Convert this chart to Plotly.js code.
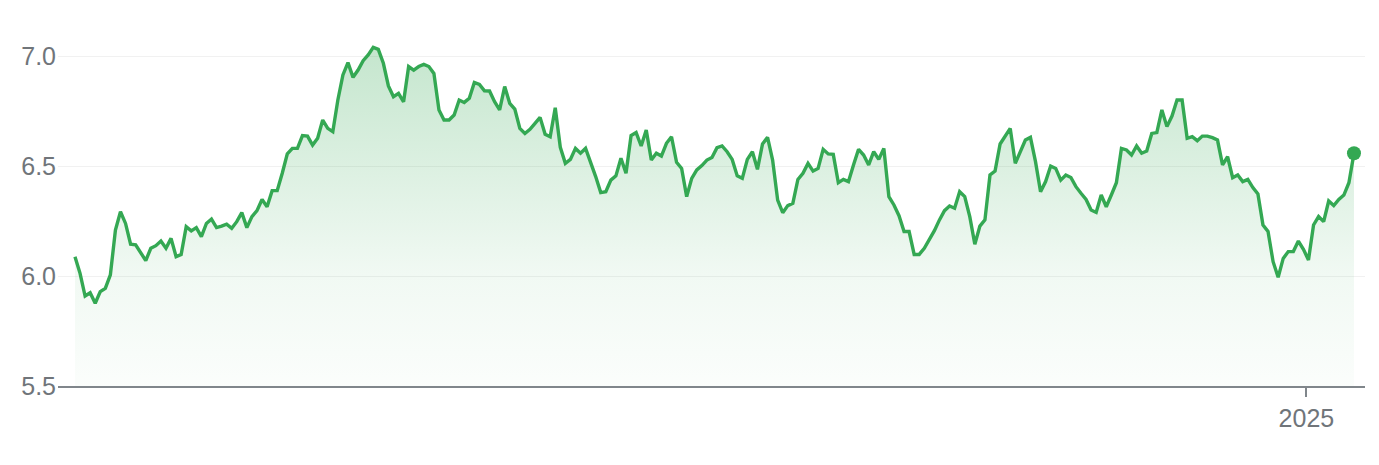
<!DOCTYPE html>
<html>
<head>
<meta charset="utf-8">
<script src="https://cdn.plot.ly/plotly-3.0.1.min.js"></script>
<style>
  html, body { margin: 0; padding: 0; background: #ffffff; }
  #chart { width: 1379px; height: 465px; }
</style>
</head>
<body>
<div id="chart"></div>
<script>
// Closing values, one per trading day
const prices = [
  6.088, 6.012, 5.909, 5.924, 5.876, 5.929, 5.944, 6.005, 6.209, 6.292,
  6.239, 6.145, 6.142, 6.106, 6.070, 6.126, 6.138, 6.159, 6.126, 6.171,
  6.088, 6.098, 6.224, 6.205, 6.220, 6.179, 6.239, 6.259, 6.220, 6.227,
  6.236, 6.217, 6.247, 6.288, 6.220, 6.270, 6.297, 6.348, 6.315, 6.388,
  6.388, 6.467, 6.555, 6.580, 6.580, 6.638, 6.636, 6.595, 6.626, 6.709,
  6.671, 6.656, 6.800, 6.914, 6.970, 6.903, 6.936, 6.979, 7.005, 7.039,
  7.030, 6.967, 6.864, 6.815, 6.830,
  6.792, 6.952, 6.936, 6.952, 6.962, 6.952, 6.921, 6.755, 6.709, 6.709,
  6.732, 6.800, 6.789, 6.808, 6.880, 6.871, 6.842, 6.841, 6.792, 6.755,
  6.861, 6.785, 6.759, 6.671, 6.648, 6.667, 6.694, 6.721, 6.644, 6.633,
  6.765, 6.585, 6.512, 6.530, 6.580, 6.558, 6.580, 6.520, 6.452, 6.379,
  6.383, 6.436, 6.455, 6.535, 6.467, 6.638, 6.652, 6.591, 6.664, 6.527,
  6.558, 6.545, 6.603, 6.633, 6.517, 6.489, 6.361, 6.444, 6.482, 6.502,
  6.527, 6.539, 6.583, 6.591, 6.565, 6.530, 6.455, 6.444, 6.530, 6.565,
  6.485, 6.600, 6.630, 6.527, 6.345, 6.288, 6.320, 6.330, 6.439, 6.467,
  6.512, 6.477, 6.489, 6.576, 6.555, 6.553, 6.424, 6.439, 6.429, 6.505,
  6.576, 6.550, 6.505, 6.565, 6.530, 6.580, 6.361, 6.323, 6.274, 6.202,
  6.202, 6.098, 6.098, 6.126, 6.164, 6.206, 6.255, 6.297, 6.318, 6.308,
  6.383, 6.361, 6.270, 6.144, 6.227, 6.255, 6.459, 6.477, 6.600, 6.633,
  6.671, 6.512, 6.561, 6.618, 6.630, 6.520, 6.383, 6.429, 6.500, 6.489,
  6.436, 6.459, 6.448, 6.406, 6.376, 6.348, 6.300, 6.289, 6.368, 6.315,
  6.368, 6.424, 6.580, 6.573, 6.550, 6.591, 6.558, 6.568, 6.648, 6.652,
  6.755, 6.679, 6.727, 6.800, 6.800, 6.626, 6.633, 6.615, 6.636, 6.636,
  6.629, 6.618, 6.505, 6.542, 6.447, 6.459, 6.429, 6.439, 6.402, 6.373,
  6.232, 6.202, 6.065, 5.994, 6.080, 6.111, 6.111, 6.159, 6.121, 6.073,
  6.232, 6.270, 6.247, 6.341, 6.320, 6.348, 6.368, 6.424, 6.558
];
const lastTradingDay = '2025-01-15';
const yTickValues = [5.5, 6.0, 6.5, 7.0];
const yTickLabels = ['5.5', '6.0', '6.5', '7.0'];
const xTickValues = ['2025-01-01 14:00'];
const xTickLabels = ['2025'];

// Trading-day dates (weekdays) ending at the last trading day
function tradingDays(endStr, n) {
  const out = [];
  const d = new Date(endStr + 'T00:00:00Z');
  while (out.length < n) {
    const wd = d.getUTCDay();
    if (wd !== 0 && wd !== 6) out.push(d.toISOString().slice(0, 10));
    d.setUTCDate(d.getUTCDate() - 1);
  }
  return out.reverse();
}
const dates = tradingDays(lastTradingDay, prices.length);

const green = '#34a853';
const font = '"Liberation Sans", Arial, sans-serif';

const traces = [
  {
    type: 'scatter', mode: 'lines',
    x: dates, y: prices,
    line: { color: green, width: 3.4, shape: 'linear' },
    fill: 'tozeroy',
    fillgradient: {
      type: 'vertical',
      start: 5.5, stop: 7.05,
      colorscale: [
        [0, 'rgba(52,168,83,0.02)'],
        [0.33, 'rgba(52,168,83,0.07)'],
        [1, 'rgba(52,168,83,0.29)']
      ]
    },
    hoverinfo: 'skip'
  },
  {
    type: 'scatter', mode: 'markers',
    x: [dates[dates.length - 1]], y: [prices[prices.length - 1]],
    marker: { color: green, size: 14 },
    hoverinfo: 'skip'
  }
];

const layout = {
  width: 1379, height: 465,
  margin: { l: 58, r: 14, t: 23, b: 79 },
  paper_bgcolor: '#ffffff', plot_bgcolor: '#ffffff',
  showlegend: false,
  font: { family: font, color: '#70757a', size: 25 },
  xaxis: {
    type: 'date',
    rangebreaks: [{ bounds: ['sat', 'mon'] }],
    range: ['2024-01-22 15:22', '2025-01-17 04:19'],
    tickvals: xTickValues, ticktext: xTickLabels,
    ticks: 'outside', ticklen: 9, tickwidth: 2, tickcolor: '#80868b',
    showgrid: false, zeroline: false,
    showline: true, linecolor: '#80868b', linewidth: 2,
    tickfont: { family: font, size: 25, color: '#70757a' }
  },
  yaxis: {
    range: [5.5, 7.15],
    tickvals: yTickValues, ticktext: yTickLabels,
    showgrid: true, gridcolor: '#f1f1f1', gridwidth: 1,
    zeroline: false, showline: false, ticks: '',
    ticklabelstandoff: 1,
    tickfont: { family: font, size: 25, color: '#70757a' }
  }
};

Plotly.newPlot('chart', traces, layout, { staticPlot: true, displayModeBar: false });
</script>
</body>
</html>
